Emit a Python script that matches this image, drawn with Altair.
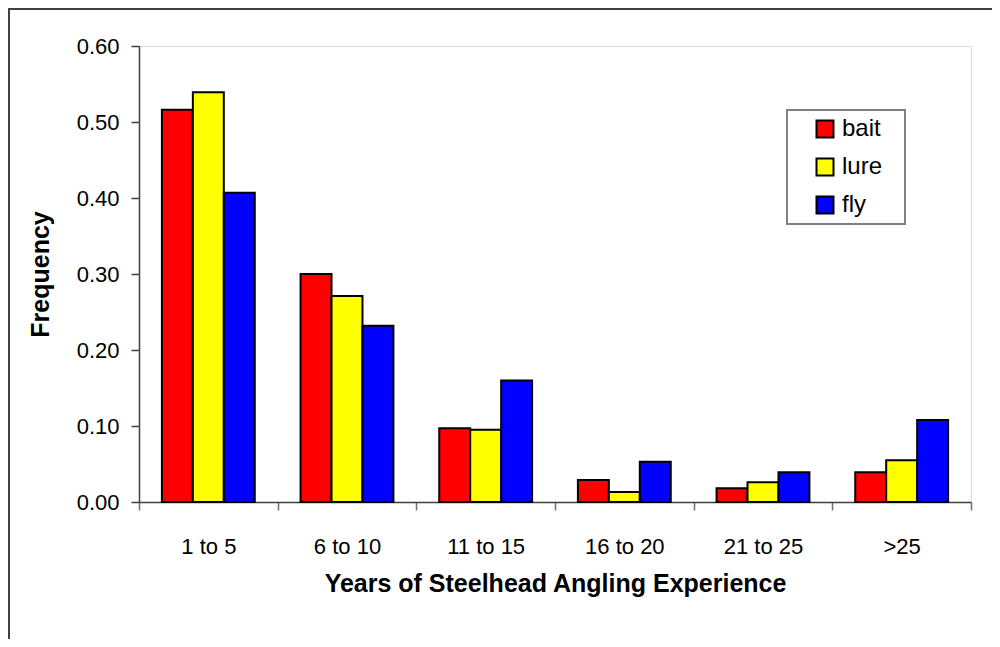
import altair as alt
import pandas as pd

categories = ["1 to 5", "6 to 10", "11 to 15", "16 to 20", "21 to 25", ">25"]
methods = ["bait", "lure", "fly"]
bait = [0.516, 0.300, 0.097, 0.029, 0.018, 0.039]
lure = [0.539, 0.271, 0.095, 0.013, 0.026, 0.055]
fly = [0.407, 0.232, 0.160, 0.053, 0.039, 0.108]
colors = ["#FF0000", "#FFFF00", "#0000FF"]

rows = []
for i, c in enumerate(categories):
    for m, vals in zip(methods, [bait, lure, fly]):
        rows.append({"Years": c, "Method": m, "Frequency": vals[i]})
df = pd.DataFrame(rows)

W, H = 832, 456
FONT = "Liberation Sans"

bars = alt.Chart(df).mark_bar(stroke="black", strokeWidth=2).encode(
    x=alt.X("Years:N", sort=categories,
            scale=alt.Scale(paddingInner=0, paddingOuter=0),
            axis=alt.Axis(title="Years of Steelhead Angling Experience", labelAngle=0,
                          tickBand="extent", tickSize=8, labelPadding=26,
                          labelFontSize=22, labelFont=FONT, labelColor="black",
                          titleFontSize=25, titleFont=FONT, titleFontWeight="bold",
                          titleColor="black", titleY=81, titleBaseline="middle",
                          domainColor="#404040", domainWidth=1.5,
                          tickColor="#707070", tickWidth=1.5)),
    xOffset=alt.XOffset("Method:N", sort=methods,
                        scale=alt.Scale(paddingInner=0, paddingOuter=0.74)),
    y=alt.Y("Frequency:Q", scale=alt.Scale(domain=[0, 0.6], nice=False),
            axis=alt.Axis(title="Frequency", values=[0, 0.1, 0.2, 0.3, 0.4, 0.5, 0.6],
                          format=".2f", grid=False, tickSize=8, labelPadding=12,
                          labelFontSize=22, labelFont=FONT, labelColor="black",
                          titleFontSize=25, titleFont=FONT, titleFontWeight="bold",
                          titleColor="black", titleX=-99, titleY=228, titleAngle=-90,
                          titleAlign="center", titleBaseline="middle",
                          domainColor="#404040", domainWidth=1.5,
                          tickColor="#404040", tickWidth=1.5)),
    color=alt.Color("Method:N", sort=methods,
                    scale=alt.Scale(domain=methods, range=colors),
                    legend=alt.Legend(title=None, orient="none", legendX=674, legendY=71,
                                      symbolType="square", symbolSize=289,
                                      symbolStrokeColor="black", symbolStrokeWidth=2,
                                      labelFontSize=24, labelFont=FONT, labelColor="black",
                                      labelOffset=5, rowPadding=12, padding=0)),
)

box = alt.Chart(pd.DataFrame({"a": [0]})).mark_rect(
    fill="white", stroke="#808080", strokeWidth=2
).encode(x=alt.value(648), x2=alt.value(766), y=alt.value(64), y2=alt.value(178))

frame_top = alt.Chart(pd.DataFrame({"a": [0]})).mark_rule(
    color="#404040", strokeWidth=2, clip=False
).encode(x=alt.value(-131), x2=alt.value(900), y=alt.value(-37))

frame_left = alt.Chart(pd.DataFrame({"a": [0]})).mark_rule(
    color="#404040", strokeWidth=2, clip=False
).encode(x=alt.value(-130), y=alt.value(-37), y2=alt.value(700))

chart = alt.layer(frame_top, frame_left, box, bars).properties(
    width=W, height=H,
    autosize=alt.AutoSizeParams(type="none"),
    padding={"left": 131, "top": 38, "right": 21, "bottom": 137},
).configure_view(stroke="#808080", strokeWidth=2).configure(background="white")

chart.save("out.html", embed_options={"renderer": "svg", "actions": False})
